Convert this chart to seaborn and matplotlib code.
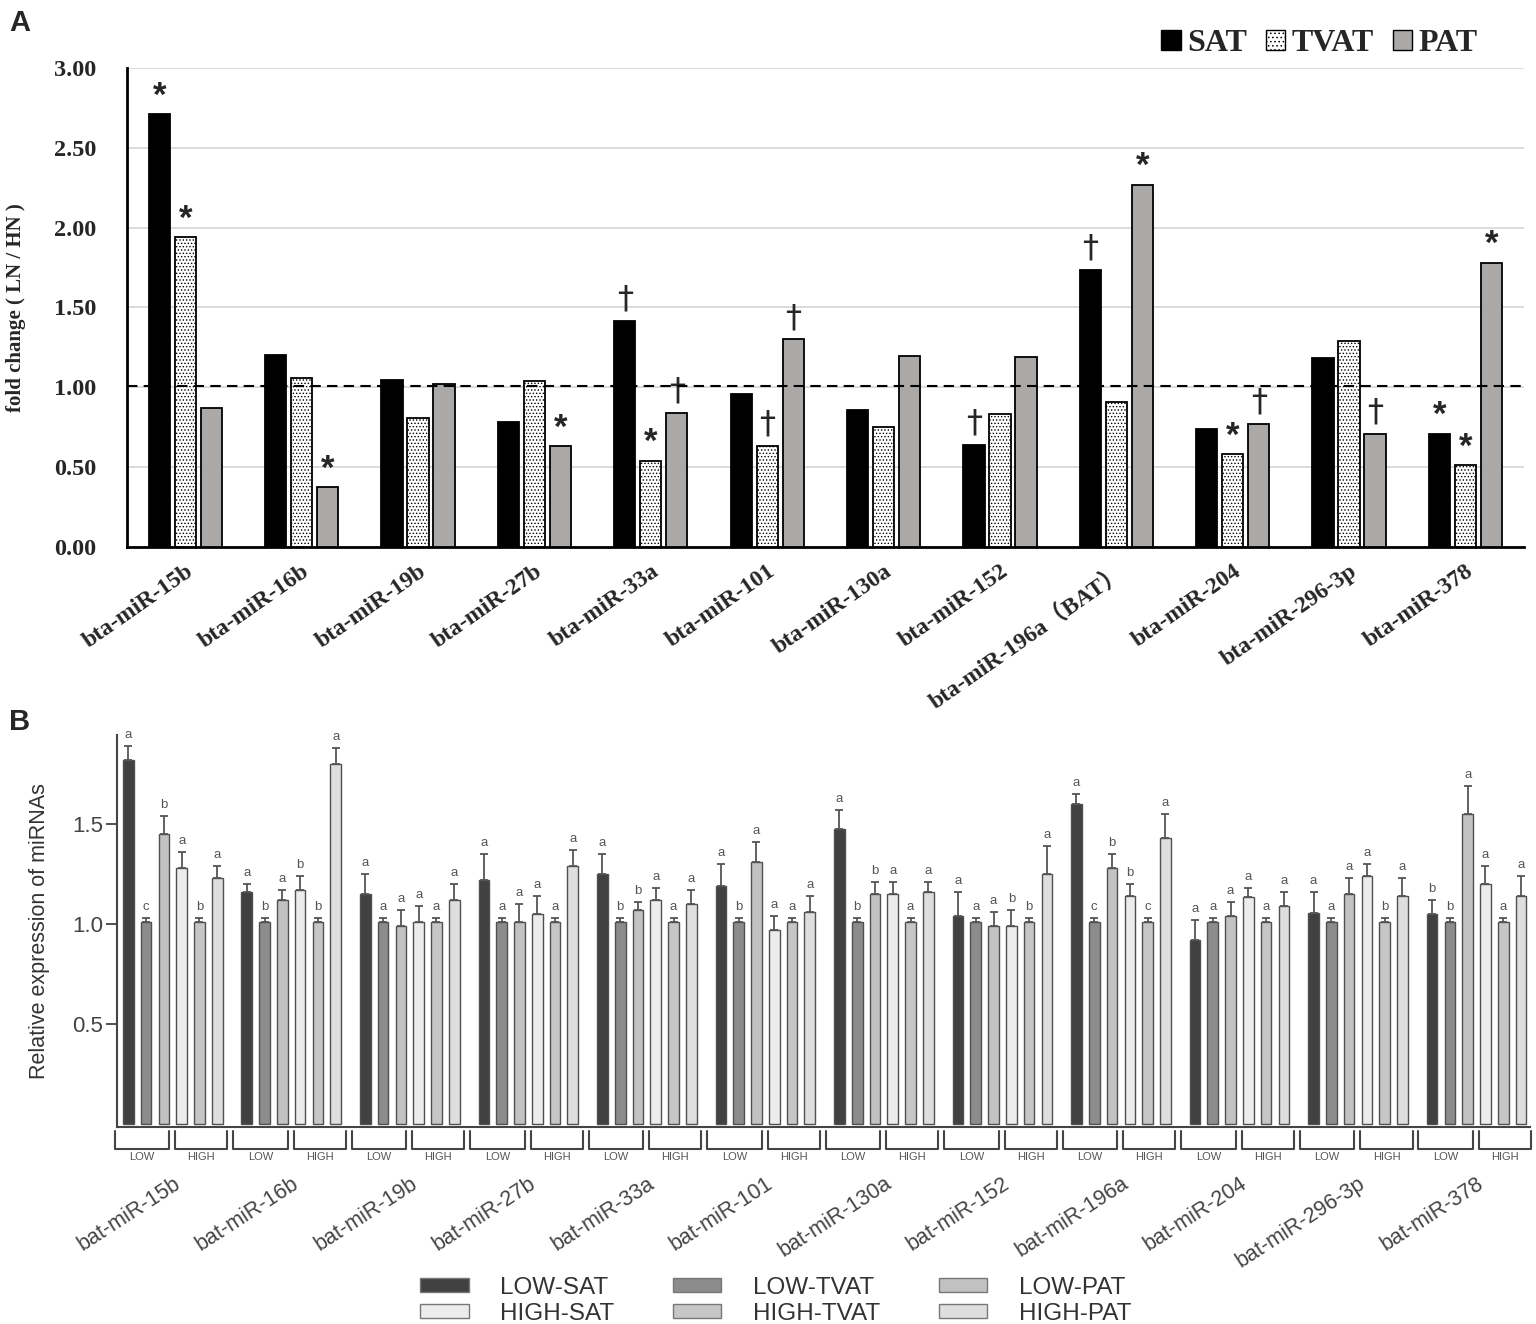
import numpy as np
import pandas as pd
import seaborn as sns
import matplotlib.pyplot as plt
from matplotlib.patches import Patch
import matplotlib.transforms as mtransforms

sns.set_style('white')
plt.rcParams['font.family'] = ['Liberation Sans', 'DejaVu Sans']
plt.rcParams['hatch.linewidth'] = 0.6

# ---- panel A data: fold change LN / HN ----
mirna_a = ['bta-miR-15b', 'bta-miR-16b', 'bta-miR-19b', 'bta-miR-27b', 'bta-miR-33a',
           'bta-miR-101', 'bta-miR-130a', 'bta-miR-152', 'bta-miR-196a（BAT）',
           'bta-miR-204', 'bta-miR-296-3p', 'bta-miR-378']
tissues = ['SAT', 'TVAT', 'PAT']
fc_sat = [2.71, 1.205, 1.045, 0.78, 1.415, 0.96, 0.858, 0.64, 1.734, 0.736, 1.185, 0.71]
fc_tvat = [1.94, 1.06, 0.81, 1.04, 0.54, 0.635, 0.75, 0.835, 0.906, 0.58, 1.29, 0.513]
fc_pat = [0.868, 0.375, 1.02, 0.63, 0.84, 1.30, 1.196, 1.19, 2.27, 0.773, 0.71, 1.78]
sig_sat = ['*', '', '', '', '†', '', '', '†', '†', '', '', '*']
sig_tvat = ['*', '', '', '', '*', '†', '', '', '', '*', '', '*']
sig_pat = ['', '*', '', '*', '†', '†', '', '', '*', '†', '†', '*']
ref_line = 1.01

# ---- panel B data: relative expression ----
mirna_b = ['bat-miR-15b', 'bat-miR-16b', 'bat-miR-19b', 'bat-miR-27b', 'bat-miR-33a',
           'bat-miR-101', 'bat-miR-130a', 'bat-miR-152', 'bat-miR-196a', 'bat-miR-204',
           'bat-miR-296-3p', 'bat-miR-378']
groups = ['LOW-SAT', 'LOW-TVAT', 'LOW-PAT', 'HIGH-SAT', 'HIGH-TVAT', 'HIGH-PAT']
low_sat = [1.82, 1.16, 1.15, 1.22, 1.25, 1.19, 1.475, 1.04, 1.60, 0.92, 1.055, 1.05]
low_tvat = [1.01, 1.01, 1.01, 1.01, 1.01, 1.01, 1.01, 1.01, 1.01, 1.01, 1.01, 1.01]
low_pat = [1.45, 1.12, 0.99, 1.01, 1.07, 1.31, 1.15, 0.99, 1.28, 1.04, 1.15, 1.55]
high_sat = [1.28, 1.17, 1.01, 1.05, 1.12, 0.97, 1.15, 0.99, 1.14, 1.135, 1.24, 1.20]
high_tvat = [1.01, 1.01, 1.01, 1.01, 1.01, 1.01, 1.01, 1.01, 1.01, 1.01, 1.01, 1.01]
high_pat = [1.23, 1.80, 1.12, 1.29, 1.10, 1.06, 1.16, 1.25, 1.43, 1.09, 1.14, 1.14]
err_low_sat = [0.07, 0.04, 0.10, 0.13, 0.10, 0.11, 0.095, 0.12, 0.05, 0.10, 0.105, 0.07]
err_low_tvat = [0.02, 0.02, 0.02, 0.02, 0.02, 0.02, 0.02, 0.02, 0.02, 0.02, 0.02, 0.02]
err_low_pat = [0.09, 0.05, 0.08, 0.09, 0.04, 0.10, 0.06, 0.07, 0.07, 0.07, 0.08, 0.14]
err_high_sat = [0.08, 0.07, 0.08, 0.09, 0.06, 0.07, 0.06, 0.08, 0.06, 0.045, 0.06, 0.09]
err_high_tvat = [0.02, 0.02, 0.02, 0.02, 0.02, 0.02, 0.02, 0.02, 0.02, 0.02, 0.02, 0.02]
err_high_pat = [0.06, 0.08, 0.08, 0.08, 0.07, 0.08, 0.05, 0.14, 0.12, 0.07, 0.09, 0.10]
let_low_sat = ['a', 'a', 'a', 'a', 'a', 'a', 'a', 'a', 'a', 'a', 'a', 'b']
let_low_tvat = ['c', 'b', 'a', 'a', 'b', 'b', 'b', 'a', 'c', 'a', 'a', 'b']
let_low_pat = ['b', 'a', 'a', 'a', 'b', 'a', 'b', 'a', 'b', 'a', 'a', 'a']
let_high_sat = ['a', 'b', 'a', 'a', 'a', 'a', 'a', 'b', 'b', 'a', 'a', 'a']
let_high_tvat = ['b', 'b', 'a', 'a', 'a', 'a', 'a', 'b', 'c', 'a', 'b', 'a']
let_high_pat = ['a', 'a', 'a', 'a', 'a', 'a', 'a', 'a', 'a', 'a', 'a', 'a']

# tables for seaborn
df_a = pd.DataFrame({'mirna': mirna_a * 3,
                     'tissue': np.repeat(tissues, len(mirna_a)),
                     'fc': fc_sat + fc_tvat + fc_pat})
vals_b = [low_sat, low_tvat, low_pat, high_sat, high_tvat, high_pat]
errs_b = [err_low_sat, err_low_tvat, err_low_pat, err_high_sat, err_high_tvat, err_high_pat]
lets_b = [let_low_sat, let_low_tvat, let_low_pat, let_high_sat, let_high_tvat, let_high_pat]
df_b = pd.DataFrame({'mirna': mirna_b * 6,
                     'group': np.repeat(groups, len(mirna_b)),
                     'value': sum(vals_b, [])})

fig = plt.figure(figsize=(15.36, 13.24), dpi=100)
serif_fam = ['Liberation Serif', 'Noto Sans CJK SC', 'DejaVu Serif']

# ================= panel A =================
axA = fig.add_axes([0.0827, 0.5869, 0.9093, 0.3617])
pal_a = {'SAT': '#000000', 'TVAT': '#ffffff', 'PAT': '#aba8a8'}
sns.barplot(data=df_a, x='mirna', y='fc', hue='tissue', hue_order=tissues, palette=pal_a,
            width=0.67, gap=0.18, errorbar=None, edgecolor='black', linewidth=1.3,
            legend=False, ax=axA, zorder=3)
for bar in axA.containers[1]:
    bar.set_hatch('.....')
axA.set_xlim(-0.5, 11.5)
axA.set_ylim(0, 3.0)
axA.set_yticks(np.arange(0, 3.01, 0.5))
axA.set_yticklabels([f'{v:.2f}' for v in np.arange(0, 3.01, 0.5)],
                    family=serif_fam, fontweight='bold', fontsize=17.5)
axA.grid(axis='y', color='#dcdcdc', lw=1.4, zorder=0)
axA.axhline(ref_line, color='black', ls=(0, (5, 3)), lw=1.5, zorder=4, clip_on=False)
for s in ['top', 'right']:
    axA.spines[s].set_visible(False)
for s in ['left', 'bottom']:
    axA.spines[s].set_color('black')
    axA.spines[s].set_linewidth(2)
axA.tick_params(axis='both', length=0)
axA.tick_params(axis='y', pad=22)
axA.tick_params(axis='x', pad=10)
axA.set_xlabel('')
axA.set_ylabel('fold change ( LN / HN )', family=serif_fam, fontweight='bold',
               fontsize=15, labelpad=20)
plt.setp(axA.get_xticklabels(), rotation=35, ha='right', rotation_mode='anchor',
         family=serif_fam, fontweight='bold', fontsize=17)

for cont, marks in zip(axA.containers, [sig_sat, sig_tvat, sig_pat]):
    for bar, m in zip(cont, marks):
        if not m:
            continue
        x = bar.get_x() + bar.get_width() / 2
        top = bar.get_height()
        if m == '*':
            axA.text(x, top + 0.01, '*', ha='center', va='bottom', fontsize=25,
                     fontweight='bold', family='Liberation Sans')
        else:
            axA.text(x, top + 0.04, '†', ha='center', va='bottom', fontsize=23,
                     family='DejaVu Sans')

leg_a = [Patch(facecolor='#000000', edgecolor='black', label='SAT'),
         Patch(facecolor='white', edgecolor='black', hatch='....', label='TVAT'),
         Patch(facecolor='#aba8a8', edgecolor='black', label='PAT')]
fig.legend(handles=leg_a, loc='center right', bbox_to_anchor=(0.962, 0.967), ncol=3,
           frameon=False, handlelength=0.6, handleheight=0.6, handletextpad=0.2,
           columnspacing=0.6, borderpad=0, borderaxespad=0,
           prop={'family': 'Liberation Serif', 'weight': 'bold', 'size': 23})

# ================= panel B =================
axB = fig.add_axes([0.0762, 0.1488, 0.9198, 0.2961])
pal_b = dict(zip(groups, ['#414141', '#8c8c8c', '#c2c2c2', '#ececec', '#c6c6c6', '#dedede']))
sns.barplot(data=df_b, x='mirna', y='value', hue='group', hue_order=groups, palette=pal_b,
            width=0.9, gap=0.4, errorbar=None, edgecolor='#505050', linewidth=1.0,
            legend=False, ax=axB, zorder=3)
axB.set_xlim(-0.47, 11.45)
axB.set_ylim(-0.015, 1.945)
axB.set_yticks([0.5, 1.0, 1.5])
axB.set_yticklabels(['0.5', '1.0', '1.5'], fontsize=16, color='#444444')
for s in ['top', 'right']:
    axB.spines[s].set_visible(False)
for s in ['left', 'bottom']:
    axB.spines[s].set_color('#444444')
    axB.spines[s].set_linewidth(1.5)
axB.tick_params(axis='y', direction='out', length=8, width=1.3, color='#444444', left=True, pad=2)
axB.tick_params(axis='x', length=0, pad=33)
axB.set_xlabel('')
axB.set_ylabel('Relative expression of miRNAs', fontsize=15.5, color='#333333', labelpad=16)
plt.setp(axB.get_xticklabels(), rotation=33, ha='right', rotation_mode='anchor',
         fontsize=15.5, color='#444444')

for cont, errs, lets in zip(axB.containers, errs_b, lets_b):
    xs = [b.get_x() + b.get_width() / 2 for b in cont]
    hs = [b.get_height() for b in cont]
    axB.errorbar(xs, hs, yerr=[np.zeros(len(errs)), errs], fmt='none', ecolor='#555555',
                 elinewidth=1.3, capsize=3, capthick=1.3, zorder=4)
    for x, h, e, l in zip(xs, hs, errs, lets):
        axB.text(x, h + e + 0.025, l, ha='center', va='bottom', fontsize=9.5, color='#555555')

# LOW / HIGH brackets under each miRNA
trans = mtransforms.blended_transform_factory(axB.transData, axB.transAxes)
for i in range(len(mirna_b)):
    for x0, x1, lab in [(i - 0.49, i - 0.03, 'LOW'), (i + 0.02, i + 0.46, 'HIGH')]:
        axB.plot([x0, x0, x1, x1], [-0.01, -0.055, -0.055, -0.01], color='#444444', lw=1.5,
                 transform=trans, clip_on=False)
        axB.text((x0 + x1) / 2, -0.065, lab, ha='center', va='top', fontsize=8,
                 color='#555555', transform=trans)

leg_b = []
for g in ['LOW-SAT', 'HIGH-SAT', 'LOW-TVAT', 'HIGH-TVAT', 'LOW-PAT', 'HIGH-PAT']:
    leg_b.append(Patch(facecolor=pal_b[g], edgecolor='#777777', label=g))
fig.legend(handles=leg_b, loc='center', bbox_to_anchor=(0.505, 0.0175), ncol=3, frameon=False,
           handlelength=2.0, handleheight=0.5, handletextpad=1.3, columnspacing=2.4,
           labelspacing=0.15, prop={'size': 17.5}, labelcolor='#333333')

fig.text(0.006, 0.983, 'A', fontsize=21, fontweight='bold', ha='left', va='center')
fig.text(0.006, 0.455, 'B', fontsize=21, fontweight='bold', ha='left', va='center')

fig.savefig('out.png', dpi=100)
